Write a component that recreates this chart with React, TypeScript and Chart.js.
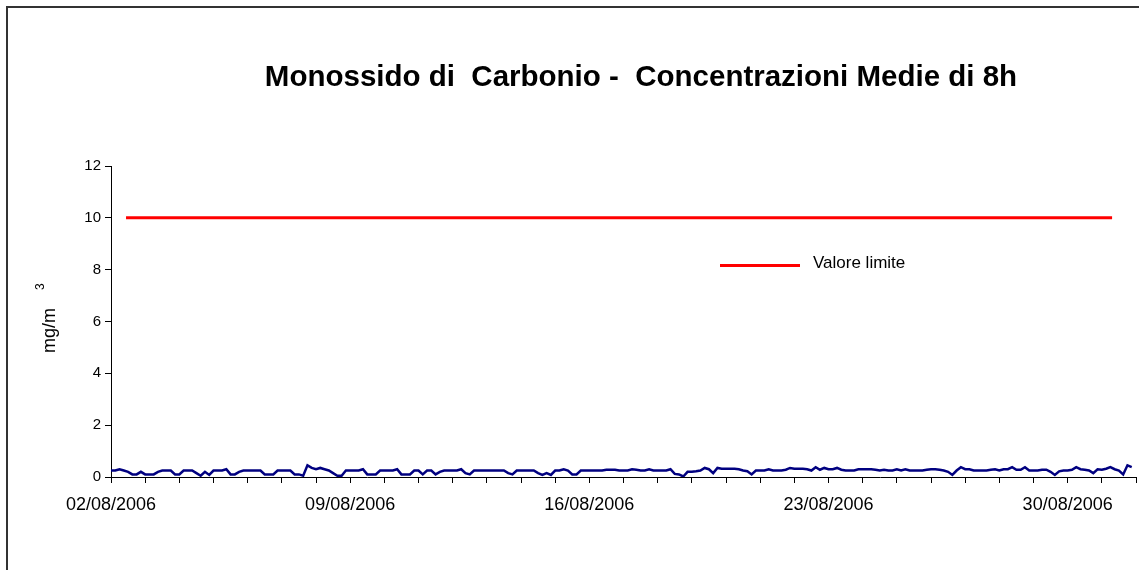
import React, { useEffect, useRef } from 'react';
import { Chart, registerables } from 'chart.js';

Chart.register(...registerables);

const TITLE = 'Monossido di  Carbonio -  Concentrazioni Medie di 8h';
const Y_TITLE = 'mg/m';
const Y_TITLE_SUP = '3';
const LEGEND_LABEL = 'Valore limite';

const X_LABEL_DAYS = [0, 7, 14, 21, 28];
const X_LABELS = ['02/08/2006', '09/08/2006', '16/08/2006', '23/08/2006', '30/08/2006'];
const X_MIN_DAY = 0;
const X_MAX_DAY = 30;
const Y_MIN = 0;
const Y_MAX = 12;
const Y_STEP = 2;

// 8h mean CO concentration, one value every 3 hours starting 02/08/2006 00:00
const STEP_DAYS = 0.125;
const CO_8H = [
  0.25, 0.25, 0.3, 0.25, 0.2, 0.1, 0.1, 0.2, 0.1, 0.1,
  0.1, 0.2, 0.25, 0.25, 0.25, 0.1, 0.1, 0.25, 0.25, 0.25,
  0.15, 0.05, 0.2, 0.08, 0.25, 0.25, 0.25, 0.3, 0.1, 0.1,
  0.2, 0.25, 0.25, 0.25, 0.25, 0.25, 0.1, 0.1, 0.1, 0.25,
  0.25, 0.25, 0.25, 0.1, 0.1, 0.05, 0.45, 0.35, 0.3, 0.35,
  0.3, 0.25, 0.15, 0.05, 0.05, 0.25, 0.25, 0.25, 0.25, 0.3,
  0.1, 0.1, 0.1, 0.25, 0.25, 0.25, 0.25, 0.3, 0.1, 0.1,
  0.1, 0.25, 0.25, 0.1, 0.25, 0.25, 0.1, 0.2, 0.25, 0.25,
  0.25, 0.25, 0.3, 0.15, 0.1, 0.25, 0.25, 0.25, 0.25, 0.25,
  0.25, 0.25, 0.25, 0.15, 0.1, 0.25, 0.25, 0.25, 0.25, 0.25,
  0.15, 0.08, 0.15, 0.08, 0.25, 0.25, 0.3, 0.25, 0.1, 0.1,
  0.25, 0.25, 0.25, 0.25, 0.25, 0.25, 0.28, 0.28, 0.28, 0.25,
  0.25, 0.25, 0.3, 0.28, 0.25, 0.25, 0.3, 0.25, 0.25, 0.25,
  0.25, 0.3, 0.12, 0.1, 0.02, 0.2, 0.2, 0.22, 0.25, 0.35,
  0.3, 0.15, 0.35, 0.32, 0.32, 0.32, 0.32, 0.3, 0.25, 0.22,
  0.1, 0.25, 0.25, 0.25, 0.3, 0.25, 0.25, 0.25, 0.28, 0.35,
  0.32, 0.32, 0.32, 0.3, 0.25, 0.38, 0.28, 0.35, 0.3, 0.3,
  0.35, 0.28, 0.25, 0.25, 0.25, 0.3, 0.3, 0.3, 0.3, 0.28,
  0.25, 0.28, 0.25, 0.25, 0.3, 0.25, 0.3, 0.25, 0.25, 0.25,
  0.25, 0.28, 0.3, 0.3, 0.28, 0.25, 0.2, 0.08, 0.25, 0.38,
  0.3, 0.3, 0.25, 0.25, 0.25, 0.25, 0.28, 0.3, 0.25, 0.3,
  0.3, 0.38, 0.28, 0.28, 0.38, 0.25, 0.25, 0.25, 0.28, 0.28,
  0.2, 0.08, 0.22, 0.25, 0.25, 0.28, 0.38, 0.3, 0.28, 0.25,
  0.15, 0.3, 0.28, 0.32, 0.38, 0.3, 0.25, 0.1, 0.45, 0.38,
];

const LIMIT_VALUE = 10;
const LIMIT_DAYS = [0.44, 29.3];

const FONT = "'Liberation Sans', Arial, Helvetica, sans-serif";

const overlayPlugin = {
  id: 'overlay',
  afterDraw(chart: any) {
    const ctx = chart.ctx as CanvasRenderingContext2D;
    ctx.save();
    // Title
    ctx.fillStyle = '#000';
    ctx.font = `bold 29.5px ${FONT}`;
    ctx.textAlign = 'center';
    ctx.textBaseline = 'alphabetic';
    ctx.fillText(TITLE, 641, 86);

    // Y axis title (rotated) with superscript
    ctx.save();
    ctx.translate(55, 353);
    ctx.rotate(-Math.PI / 2);
    ctx.textAlign = 'left';
    ctx.font = `18px ${FONT}`;
    ctx.fillText(Y_TITLE, 0, 0);
    ctx.font = `12px ${FONT}`;
    ctx.fillText(Y_TITLE_SUP, 63, -11);
    ctx.restore();

    // Legend
    ctx.strokeStyle = '#FF0000';
    ctx.lineWidth = 3;
    ctx.beginPath();
    ctx.moveTo(720, 265.5);
    ctx.lineTo(800, 265.5);
    ctx.stroke();
    ctx.fillStyle = '#000';
    ctx.font = `17px ${FONT}`;
    ctx.textAlign = 'left';
    ctx.fillText(LEGEND_LABEL, 813, 268);
    ctx.restore();
  },
};

export default function App() {
  const ref = useRef<HTMLCanvasElement | null>(null);

  useEffect(() => {
    if (!ref.current) return;
    const coData = CO_8H.map((v, i) => ({ x: i * STEP_DAYS, y: v }));
    const limitData = LIMIT_DAYS.map((d) => ({ x: d, y: LIMIT_VALUE }));
    const chart = new Chart(ref.current, {
      type: 'line',
      data: {
        datasets: [
          {
            label: 'CO media 8h',
            data: coData,
            borderColor: '#000080',
            borderWidth: 2.5,
            pointRadius: 0,
            tension: 0,
            fill: false,
          },
          {
            label: LEGEND_LABEL,
            data: limitData,
            borderColor: '#FF0000',
            borderWidth: 3,
            pointRadius: 0,
            tension: 0,
            fill: false,
          },
        ],
      },
      options: {
        responsive: false,
        animation: false,
        events: [],
        layout: { padding: { top: 166, right: 3, bottom: 0, left: 0 } },
        plugins: {
          legend: { display: false },
          title: { display: false },
          tooltip: { enabled: false },
        },
        scales: {
          x: {
            type: 'linear',
            min: X_MIN_DAY,
            max: X_MAX_DAY,
            afterBuildTicks: (scale: any) => {
              const t = [];
              for (let d = X_MIN_DAY; d <= X_MAX_DAY; d++) t.push({ value: d });
              scale.ticks = t;
            },
            ticks: {
              autoSkip: false,
              maxRotation: 0,
              minRotation: 0,
              color: '#000',
              padding: 11,
              font: { family: FONT, size: 18 },
              callback: (v: any) => {
                const idx = X_LABEL_DAYS.indexOf(Number(v));
                return idx >= 0 ? X_LABELS[idx] : '';
              },
            },
            grid: { drawOnChartArea: false, drawTicks: true, tickLength: 6, color: '#000', lineWidth: 1 },
            border: { display: true, color: '#000', width: 1 },
            afterFit: (scale: any) => {
              scale.height = 93;
              scale.paddingLeft = 0;
              scale.paddingRight = 0;
            },
          },
          y: {
            min: Y_MIN,
            max: Y_MAX,
            ticks: {
              stepSize: Y_STEP,
              color: '#000',
              padding: 4,
              font: { family: FONT, size: 15 },
            },
            grid: { drawOnChartArea: false, drawTicks: true, tickLength: 6, color: '#000', lineWidth: 1 },
            border: { display: true, color: '#000', width: 1 },
            afterFit: (scale: any) => {
              scale.width = 111;
            },
          },
        },
      },
      plugins: [overlayPlugin],
    });
    return () => chart.destroy();
  }, []);

  return (
    <div style={{ position: 'fixed', left: 0, top: 0, width: 1139, height: 570, background: '#fff', overflow: 'hidden' }}>
      <canvas ref={ref} width={1139} height={570} style={{ position: 'absolute', left: 0, top: 0, width: 1139, height: 570 }} />
      <div
        style={{
          position: 'absolute',
          left: 6,
          top: 6,
          width: 1300,
          height: 700,
          border: '2px solid #333',
          pointerEvents: 'none',
        }}
      />
    </div>
  );
}
